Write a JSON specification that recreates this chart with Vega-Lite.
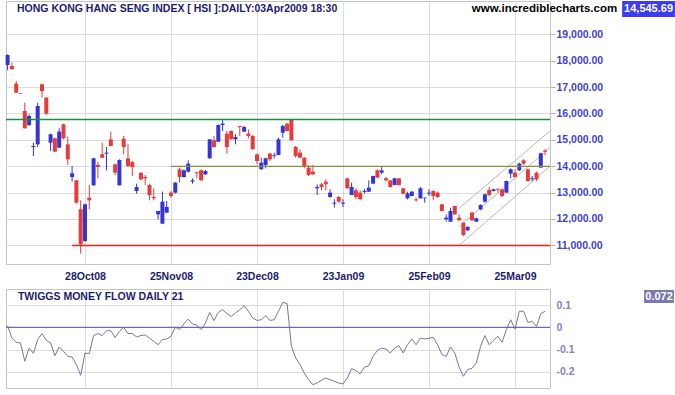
{
"$schema": "https://vega.github.io/schema/vega-lite/v6.json",
"padding": {"left": 4, "top": 0, "right": 0, "bottom": 0},
"background": "white",
"bounds": "flush",
"spacing": 25,
"config": {
 "font": "Liberation Sans",
 "view": {"stroke": "#c4c4c4", "strokeWidth": 1},
 "axis": {"labelFont": "Liberation Sans", "labelFontWeight": "bold", "labelFontSize": 10.5, "gridColor": "#dcdcdc", "gridWidth": 1, "domain": false, "title": null}
},
"datasets": {
"hsi": [
{"i":0,"date":"2008-09-30","open":17836,"high":18240,"low":17634,"close":18215,"tmf":0.008},
{"i":1,"date":"2008-10-02","open":17798,"high":17925,"low":17660,"close":17672,"tmf":-0.048},
{"i":2,"date":"2008-10-03","open":17128,"high":17229,"low":16780,"close":16787,"tmf":-0.067},
{"i":3,"date":"2008-10-06","open":16775,"high":16780,"low":16745,"close":16750,"tmf":-0.07},
{"i":4,"date":"2008-10-08","open":16092,"high":16408,"low":15430,"close":15435,"tmf":-0.152},
{"i":5,"date":"2008-10-09","open":15561,"high":15966,"low":15523,"close":15902,"tmf":-0.093},
{"i":6,"date":"2008-10-10","open":14727,"high":14891,"low":14386,"close":14765,"tmf":-0.116},
{"i":7,"date":"2008-10-13","open":14828,"high":16408,"low":14727,"close":16282,"tmf":-0.054},
{"i":8,"date":"2008-10-14","open":17103,"high":17128,"low":16598,"close":16850,"tmf":-0.028},
{"i":9,"date":"2008-10-15","open":16598,"high":16610,"low":15940,"close":15991,"tmf":-0.058},
{"i":10,"date":"2008-10-16","open":14891,"high":15233,"low":14575,"close":15207,"tmf":-0.07},
{"i":11,"date":"2008-10-17","open":15056,"high":15081,"low":14545,"close":14550,"tmf":-0.127},
{"i":12,"date":"2008-10-20","open":14702,"high":15435,"low":14690,"close":15308,"tmf":-0.088},
{"i":13,"date":"2008-10-21","open":15587,"high":15612,"low":15018,"close":15056,"tmf":-0.107},
{"i":14,"date":"2008-10-22","open":14828,"high":15119,"low":14045,"close":14260,"tmf":-0.13},
{"i":15,"date":"2008-10-23","open":13590,"high":14007,"low":13413,"close":13729,"tmf":-0.133},
{"i":16,"date":"2008-10-24","open":13463,"high":13480,"low":12579,"close":12617,"tmf":-0.167},
{"i":17,"date":"2008-10-27","open":12364,"high":12705,"low":10683,"close":11037,"tmf":-0.215},
{"i":18,"date":"2008-10-28","open":11163,"high":12579,"low":11138,"close":12554,"tmf":-0.115},
{"i":19,"date":"2008-10-29","open":12806,"high":13287,"low":12364,"close":12705,"tmf":-0.118},
{"i":20,"date":"2008-10-30","open":13274,"high":14320,"low":13250,"close":14297,"tmf":-0.037},
{"i":21,"date":"2008-10-31","open":14045,"high":14171,"low":13539,"close":13969,"tmf":-0.028},
{"i":22,"date":"2008-11-03","open":14449,"high":14891,"low":14300,"close":14323,"tmf":-0.037},
{"i":23,"date":"2008-11-04","open":14474,"high":14727,"low":13842,"close":14512,"tmf":-0.015},
{"i":24,"date":"2008-11-05","open":15018,"high":15308,"low":14760,"close":14765,"tmf":-0.015},
{"i":25,"date":"2008-11-06","open":14070,"high":14095,"low":13665,"close":13754,"tmf":-0.045},
{"i":26,"date":"2008-11-07","open":13274,"high":14259,"low":13270,"close":14234,"tmf":-0.018},
{"i":27,"date":"2008-11-10","open":15043,"high":15144,"low":14449,"close":14727,"tmf":0.0},
{"i":28,"date":"2008-11-11","open":14297,"high":14828,"low":13969,"close":14007,"tmf":-0.028},
{"i":29,"date":"2008-11-12","open":14158,"high":14196,"low":13627,"close":13969,"tmf":-0.028},
{"i":30,"date":"2008-11-13","open":13059,"high":13337,"low":12958,"close":13210,"tmf":-0.043},
{"i":31,"date":"2008-11-14","open":13754,"high":13760,"low":13463,"close":13501,"tmf":-0.037},
{"i":32,"date":"2008-11-17","open":13590,"high":13665,"low":13286,"close":13539,"tmf":-0.034},
{"i":33,"date":"2008-11-18","open":13286,"high":13337,"low":12705,"close":12907,"tmf":-0.049},
{"i":34,"date":"2008-11-19","open":12831,"high":13160,"low":12705,"close":12781,"tmf":-0.063},
{"i":35,"date":"2008-11-20","open":12174,"high":12310,"low":11985,"close":12301,"tmf":-0.078},
{"i":36,"date":"2008-11-21","open":11820,"high":13034,"low":11815,"close":12654,"tmf":-0.055},
{"i":37,"date":"2008-11-24","open":12237,"high":12680,"low":12230,"close":12452,"tmf":-0.052},
{"i":38,"date":"2008-11-25","open":12996,"high":13059,"low":12806,"close":12869,"tmf":-0.04},
{"i":39,"date":"2008-11-26","open":12996,"high":13400,"low":12960,"close":13375,"tmf":0.001},
{"i":40,"date":"2008-11-27","open":13880,"high":13943,"low":13375,"close":13590,"tmf":-0.01},
{"i":41,"date":"2008-11-28","open":13590,"high":13880,"low":13560,"close":13842,"tmf":0.015},
{"i":42,"date":"2008-12-01","open":13792,"high":14221,"low":13754,"close":14095,"tmf":0.037},
{"i":43,"date":"2008-12-02","open":13413,"high":13539,"low":13337,"close":13463,"tmf":0.015},
{"i":44,"date":"2008-12-03","open":13767,"high":13792,"low":13539,"close":13729,"tmf":0.01},
{"i":45,"date":"2008-12-04","open":13842,"high":13880,"low":13450,"close":13463,"tmf":-0.01},
{"i":46,"date":"2008-12-05","open":13691,"high":13855,"low":13665,"close":13817,"tmf":0.019},
{"i":47,"date":"2008-12-08","open":14297,"high":15030,"low":14290,"close":15018,"tmf":0.067},
{"i":48,"date":"2008-12-09","open":14980,"high":15144,"low":14702,"close":14727,"tmf":0.03},
{"i":49,"date":"2008-12-10","open":14929,"high":15587,"low":14920,"close":15561,"tmf":0.067},
{"i":50,"date":"2008-12-11","open":15561,"high":15776,"low":15334,"close":15612,"tmf":0.079},
{"i":51,"date":"2008-12-12","open":15233,"high":15334,"low":14474,"close":14727,"tmf":0.061},
{"i":52,"date":"2008-12-15","open":15334,"high":15360,"low":15010,"close":15018,"tmf":0.049},
{"i":53,"date":"2008-12-16","open":15018,"high":15207,"low":14828,"close":15106,"tmf":0.064},
{"i":54,"date":"2008-12-17","open":15523,"high":15530,"low":15144,"close":15485,"tmf":0.079},
{"i":55,"date":"2008-12-18","open":15308,"high":15523,"low":15300,"close":15485,"tmf":0.097},
{"i":56,"date":"2008-12-19","open":15233,"high":15397,"low":15056,"close":15144,"tmf":0.072},
{"i":57,"date":"2008-12-22","open":15144,"high":15182,"low":14630,"close":14638,"tmf":0.042},
{"i":58,"date":"2008-12-23","open":14449,"high":14474,"low":14070,"close":14196,"tmf":0.031},
{"i":59,"date":"2008-12-24","open":13880,"high":14323,"low":13870,"close":14133,"tmf":0.034},
{"i":60,"date":"2008-12-29","open":14045,"high":14320,"low":13918,"close":14297,"tmf":0.052},
{"i":61,"date":"2008-12-30","open":14474,"high":14512,"low":14196,"close":14259,"tmf":0.031},
{"i":62,"date":"2008-12-31","open":14390,"high":14512,"low":14298,"close":14420,"tmf":0.034},
{"i":63,"date":"2009-01-02","open":14424,"high":15080,"low":14420,"close":15018,"tmf":0.072},
{"i":64,"date":"2009-01-05","open":15270,"high":15560,"low":15080,"close":15523,"tmf":0.112},
{"i":65,"date":"2009-01-06","open":15610,"high":15650,"low":15320,"close":15334,"tmf":0.106},
{"i":66,"date":"2009-01-07","open":15760,"high":15777,"low":14970,"close":14980,"tmf":-0.085},
{"i":67,"date":"2009-01-08","open":14727,"high":14765,"low":14323,"close":14386,"tmf":-0.137},
{"i":68,"date":"2009-01-09","open":14513,"high":14639,"low":14298,"close":14323,"tmf":-0.167},
{"i":69,"date":"2009-01-12","open":14323,"high":14330,"low":13919,"close":13969,"tmf":-0.205},
{"i":70,"date":"2009-01-13","open":13944,"high":14045,"low":13628,"close":13666,"tmf":-0.234},
{"i":71,"date":"2009-01-14","open":13792,"high":14045,"low":13666,"close":13691,"tmf":-0.257},
{"i":72,"date":"2009-01-15","open":13160,"high":13312,"low":12907,"close":13211,"tmf":-0.249},
{"i":73,"date":"2009-01-16","open":13312,"high":13375,"low":13084,"close":13211,"tmf":-0.237},
{"i":74,"date":"2009-01-19","open":13413,"high":13501,"low":13084,"close":13312,"tmf":-0.227},
{"i":75,"date":"2009-01-20","open":12832,"high":13122,"low":12800,"close":12996,"tmf":-0.234},
{"i":76,"date":"2009-01-21","open":12579,"high":12743,"low":12427,"close":12617,"tmf":-0.242},
{"i":77,"date":"2009-01-22","open":12832,"high":12870,"low":12617,"close":12655,"tmf":-0.249},
{"i":78,"date":"2009-01-23","open":12579,"high":12743,"low":12453,"close":12617,"tmf":-0.254},
{"i":79,"date":"2009-01-29","open":13539,"high":13565,"low":13150,"close":13160,"tmf":-0.227},
{"i":80,"date":"2009-01-30","open":12907,"high":13375,"low":12900,"close":13211,"tmf":-0.185},
{"i":81,"date":"2009-02-02","open":13084,"high":13160,"low":12743,"close":12832,"tmf":-0.194},
{"i":82,"date":"2009-02-03","open":12996,"high":13084,"low":12730,"close":12743,"tmf":-0.208},
{"i":83,"date":"2009-02-04","open":13021,"high":13122,"low":12958,"close":13059,"tmf":-0.178},
{"i":84,"date":"2009-02-05","open":13034,"high":13463,"low":13020,"close":13185,"tmf":-0.172},
{"i":85,"date":"2009-02-06","open":13337,"high":13640,"low":13330,"close":13628,"tmf":-0.13},
{"i":86,"date":"2009-02-09","open":13842,"high":13880,"low":13550,"close":13564,"tmf":-0.103},
{"i":87,"date":"2009-02-10","open":13754,"high":14007,"low":13691,"close":13842,"tmf":-0.093},
{"i":88,"date":"2009-02-11","open":13539,"high":13590,"low":13413,"close":13463,"tmf":-0.097},
{"i":89,"date":"2009-02-12","open":13463,"high":13470,"low":13185,"close":13210,"tmf":-0.115},
{"i":90,"date":"2009-02-13","open":13286,"high":13550,"low":13280,"close":13539,"tmf":-0.093},
{"i":91,"date":"2009-02-16","open":13539,"high":13550,"low":13270,"close":13286,"tmf":-0.082},
{"i":92,"date":"2009-02-17","open":13160,"high":13185,"low":12932,"close":12958,"tmf":-0.115},
{"i":93,"date":"2009-02-18","open":12781,"high":13034,"low":12743,"close":12970,"tmf":-0.078},
{"i":94,"date":"2009-02-19","open":12869,"high":13059,"low":12860,"close":13034,"tmf":-0.052},
{"i":95,"date":"2009-02-20","open":12743,"high":12806,"low":12654,"close":12705,"tmf":-0.078},
{"i":96,"date":"2009-02-23","open":12781,"high":13210,"low":12770,"close":13160,"tmf":-0.048},
{"i":97,"date":"2009-02-24","open":12781,"high":12810,"low":12616,"close":12806,"tmf":-0.052},
{"i":98,"date":"2009-02-25","open":12958,"high":13122,"low":12869,"close":12996,"tmf":-0.049},
{"i":99,"date":"2009-02-26","open":13059,"high":13084,"low":12705,"close":12869,"tmf":-0.045},
{"i":100,"date":"2009-02-27","open":12996,"high":13034,"low":12806,"close":12831,"tmf":-0.078},
{"i":101,"date":"2009-03-02","open":12553,"high":12578,"low":12290,"close":12301,"tmf":-0.122},
{"i":102,"date":"2009-03-03","open":11985,"high":12174,"low":11896,"close":12048,"tmf":-0.13},
{"i":103,"date":"2009-03-04","open":11896,"high":12427,"low":11890,"close":12301,"tmf":-0.088},
{"i":104,"date":"2009-03-05","open":12490,"high":12500,"low":12149,"close":12174,"tmf":-0.115},
{"i":105,"date":"2009-03-06","open":12048,"high":12174,"low":11940,"close":11947,"tmf":-0.178},
{"i":106,"date":"2009-03-09","open":11858,"high":11896,"low":11353,"close":11391,"tmf":-0.219},
{"i":107,"date":"2009-03-10","open":11568,"high":11732,"low":11543,"close":11694,"tmf":-0.189},
{"i":108,"date":"2009-03-11","open":12238,"high":12275,"low":11922,"close":11947,"tmf":-0.184},
{"i":109,"date":"2009-03-12","open":11896,"high":12048,"low":11890,"close":12023,"tmf":-0.16},
{"i":110,"date":"2009-03-13","open":12364,"high":12553,"low":12326,"close":12528,"tmf":-0.085},
{"i":111,"date":"2009-03-16","open":12655,"high":12958,"low":12617,"close":12933,"tmf":-0.037},
{"i":112,"date":"2009-03-17","open":13100,"high":13211,"low":12869,"close":12907,"tmf":-0.078},
{"i":113,"date":"2009-03-18","open":13059,"high":13147,"low":13034,"close":13122,"tmf":-0.058},
{"i":114,"date":"2009-03-19","open":13147,"high":13150,"low":12996,"close":13110,"tmf":-0.04},
{"i":115,"date":"2009-03-20","open":13122,"high":13130,"low":12831,"close":12869,"tmf":-0.067},
{"i":116,"date":"2009-03-23","open":12996,"high":13450,"low":12990,"close":13438,"tmf":-0.01},
{"i":117,"date":"2009-03-24","open":13716,"high":13918,"low":13539,"close":13880,"tmf":0.034},
{"i":118,"date":"2009-03-25","open":13754,"high":13880,"low":13565,"close":13590,"tmf":-0.008},
{"i":119,"date":"2009-03-26","open":13843,"high":14133,"low":13817,"close":14095,"tmf":0.072},
{"i":120,"date":"2009-03-27","open":14222,"high":14260,"low":14045,"close":14095,"tmf":0.072},
{"i":121,"date":"2009-03-30","open":13880,"high":13918,"low":13413,"close":13438,"tmf":0.022},
{"i":122,"date":"2009-03-31","open":13501,"high":13628,"low":13413,"close":13539,"tmf":0.027},
{"i":123,"date":"2009-04-01","open":13754,"high":13792,"low":13438,"close":13501,"tmf":0.004},
{"i":124,"date":"2009-04-02","open":13944,"high":14512,"low":13940,"close":14487,"tmf":0.061},
{"i":125,"date":"2009-04-03","open":14590,"high":14650,"low":14420,"close":14545.69,"tmf":0.072}
],
"levels": [
{"line":"resistance","level":15770,"start":-0.37,"end":126.14},
{"line":"support","level":13990,"start":38,"end":126.14},
{"line":"low","level":10993,"start":15,"end":126.14}
],
"channel": [
{"line":"upper","i":105,"value":12403},
{"line":"upper","i":126.14,"value":15334},
{"line":"middle","i":105,"value":11706},
{"line":"middle","i":126.14,"value":14706},
{"line":"lower","i":105,"value":11000},
{"line":"lower","i":126.14,"value":14000}
]
},
"vconcat": [
{
"width": 544,
"height": 263,
"resolve": {"axis": {"x": "independent", "y": "independent"}},
"layer": [
{"data": {"name": "hsi"}, "mark": {"type": "rule", "strokeWidth": 1},
 "encoding": {
  "x": {"field": "i", "type": "quantitative", "scale": {"domain": [-0.37, 126.14], "nice": false, "zero": false, "padding": 0},
        "axis": {"orient": "bottom", "values": [18, 38, 58, 78, 98, 118], "labelExpr": "datum.value == 18 ? '28Oct08' : datum.value == 38 ? '25Nov08' : datum.value == 58 ? '23Dec08' : datum.value == 78 ? '23Jan09' : datum.value == 98 ? '25Feb09' : '25Mar09'", "ticks": false, "labelPadding": 7, "labelColor": "#1c1c6e", "grid": true, "labelFlush": false, "title": null}},
  "y": {"field": "low", "type": "quantitative", "scale": {"domain": [10291, 20262], "nice": false, "zero": false},
        "axis": {"orient": "right", "values": [11000, 12000, 13000, 14000, 15000, 16000, 17000, 18000, 19000], "format": ",.2f", "labelColor": "#3f3fcf", "tickSize": 5, "tickColor": "#b0b0b0", "labelPadding": 1, "grid": true, "title": null}},
  "y2": {"field": "high"},
  "color": {"condition": {"test": "datum.close < datum.open", "value": "#e63b3b"}, "value": "#3535d6"}
 }},
{"data": {"name": "channel"}, "mark": {"type": "line", "strokeWidth": 1, "stroke": "#b8b8b8"},
 "encoding": {
  "x": {"field": "i", "type": "quantitative", "scale": {"domain": [-0.37, 126.14], "nice": false, "zero": false, "padding": 0}, "axis": null},
  "y": {"field": "value", "type": "quantitative", "scale": {"domain": [10291, 20262], "nice": false, "zero": false}, "axis": null},
  "detail": {"field": "line", "type": "nominal"}
 }},
{"data": {"name": "hsi"}, "mark": {"type": "bar", "size": 4},
 "encoding": {
  "x": {"field": "i", "type": "quantitative", "scale": {"domain": [-0.37, 126.14], "nice": false, "zero": false, "padding": 0}, "axis": null},
  "y": {"field": "open", "type": "quantitative", "scale": {"domain": [10291, 20262], "nice": false, "zero": false}, "axis": null},
  "y2": {"field": "close"},
  "color": {"condition": {"test": "datum.close < datum.open", "value": "#e63b3b"}, "value": "#3535d6"}
 }},
{"data": {"name": "levels"}, "transform": [{"filter": "datum.line == 'resistance'"}], "mark": {"type": "rule", "strokeWidth": 1.5, "stroke": "#1e8a4a"},
 "encoding": {
  "x": {"field": "start", "type": "quantitative", "scale": {"domain": [-0.37, 126.14], "nice": false, "zero": false, "padding": 0}, "axis": null},
  "x2": {"field": "end"},
  "y": {"field": "level", "type": "quantitative", "scale": {"domain": [10291, 20262], "nice": false, "zero": false}, "axis": null}
 }},
{"data": {"name": "levels"}, "transform": [{"filter": "datum.line == 'support'"}], "mark": {"type": "rule", "strokeWidth": 1.2, "stroke": "#8c8c3c"},
 "encoding": {
  "x": {"field": "start", "type": "quantitative", "scale": {"domain": [-0.37, 126.14], "nice": false, "zero": false, "padding": 0}, "axis": null},
  "x2": {"field": "end"},
  "y": {"field": "level", "type": "quantitative", "scale": {"domain": [10291, 20262], "nice": false, "zero": false}, "axis": null}
 }},
{"data": {"name": "levels"}, "transform": [{"filter": "datum.line == 'low'"}], "mark": {"type": "rule", "strokeWidth": 1.5, "stroke": "#ff1a1a"},
 "encoding": {
  "x": {"field": "start", "type": "quantitative", "scale": {"domain": [-0.37, 126.14], "nice": false, "zero": false, "padding": 0}, "axis": null},
  "x2": {"field": "end"},
  "y": {"field": "level", "type": "quantitative", "scale": {"domain": [10291, 20262], "nice": false, "zero": false}, "axis": null}
 }},
{"data": {"values": [{}]}, "mark": {"type": "text", "align": "left", "baseline": "middle", "fontSize": 10.5, "fontWeight": "bold", "color": "#1c1c6e", "text": "HONG KONG HANG SENG INDEX [ HSI ]:DAILY:03Apr2009 18:30"},
 "encoding": {
  "x": {"datum": 2.18, "type": "quantitative", "scale": {"domain": [-0.37, 126.14], "nice": false, "zero": false, "padding": 0}, "axis": null},
  "y": {"datum": 19959, "type": "quantitative", "scale": {"domain": [10291, 20262], "nice": false, "zero": false}, "axis": null}
 }},
{"data": {"values": [{}]}, "mark": {"type": "text", "align": "right", "baseline": "middle", "fontSize": 11.5, "fontWeight": "bold", "color": "#000000", "text": "www.incrediblecharts.com"},
 "encoding": {
  "x": {"datum": 141.76, "type": "quantitative", "scale": {"domain": [-0.37, 126.14], "nice": false, "zero": false, "padding": 0}, "axis": null},
  "y": {"datum": 19959, "type": "quantitative", "scale": {"domain": [10291, 20262], "nice": false, "zero": false}, "axis": null}
 }},
{"data": {"values": [{}]}, "mark": {"type": "rect", "color": "#3b3bf0"},
 "encoding": {
  "x": {"datum": 142.92, "type": "quantitative", "scale": {"domain": [-0.37, 126.14], "nice": false, "zero": false, "padding": 0}, "axis": null},
  "x2": {"datum": 155.2},
  "y": {"datum": 20262, "type": "quantitative", "scale": {"domain": [10291, 20262], "nice": false, "zero": false}, "axis": null},
  "y2": {"datum": 19655}
 }},
{"data": {"name": "hsi"}, "transform": [{"filter": "datum.i == 125"}],
 "mark": {"type": "text", "align": "center", "baseline": "middle", "fontSize": 11, "fontWeight": "bold", "color": "#ffffff"},
 "encoding": {
  "x": {"datum": 149.06, "type": "quantitative", "scale": {"domain": [-0.37, 126.14], "nice": false, "zero": false, "padding": 0}, "axis": null},
  "y": {"datum": 19959, "type": "quantitative", "scale": {"domain": [10291, 20262], "nice": false, "zero": false}, "axis": null},
  "text": {"field": "close", "type": "quantitative", "format": ",.2f"}
 }}
]
},
{
"width": 544,
"height": 99,
"resolve": {"axis": {"x": "independent", "y": "independent"}},
"layer": [
{"data": {"name": "hsi"}, "mark": {"type": "line", "strokeWidth": 1, "stroke": "#77779c"},
 "encoding": {
  "x": {"field": "i", "type": "quantitative", "scale": {"domain": [-0.37, 126.14], "nice": false, "zero": false, "padding": 0},
        "axis": {"orient": "bottom", "values": [18, 38, 58, 78, 98, 118], "labels": false, "ticks": false, "grid": true, "title": null}},
  "y": {"field": "tmf", "type": "quantitative", "scale": {"domain": [-0.2717, 0.1717], "nice": false, "zero": false},
        "axis": {"orient": "right", "values": [-0.2, -0.1, 0, 0.1], "labelExpr": "datum.value == 0 ? '0' : (datum.value < 0 ? '-' : '') + format(abs(datum.value), '.1f')", "ticks": false, "labelPadding": 6, "labelColor": "#8484b8", "grid": true, "title": null}}
 }},
{"data": {"values": [{}]}, "mark": {"type": "rule", "strokeWidth": 1.2, "stroke": "#6b6bab"},
 "encoding": {
  "y": {"datum": 0, "type": "quantitative", "scale": {"domain": [-0.2717, 0.1717], "nice": false, "zero": false}, "axis": null}
 }},
{"data": {"values": [{}]}, "mark": {"type": "text", "align": "left", "baseline": "middle", "fontSize": 10.5, "fontWeight": "bold", "color": "#1c1c6e", "text": "TWIGGS MONEY FLOW DAILY 21"},
 "encoding": {
  "x": {"datum": 2.41, "type": "quantitative", "scale": {"domain": [-0.37, 126.14], "nice": false, "zero": false, "padding": 0}, "axis": null},
  "y": {"datum": 0.138, "type": "quantitative", "scale": {"domain": [-0.2717, 0.1717], "nice": false, "zero": false}, "axis": null}
 }},
{"data": {"values": [{}]}, "mark": {"type": "rect", "color": "#7a7ab0"},
 "encoding": {
  "x": {"datum": 148.02, "type": "quantitative", "scale": {"domain": [-0.37, 126.14], "nice": false, "zero": false, "padding": 0}, "axis": null},
  "x2": {"datum": 154.97},
  "y": {"datum": 0.1672, "type": "quantitative", "scale": {"domain": [-0.2717, 0.1717], "nice": false, "zero": false}, "axis": null},
  "y2": {"datum": 0.1089}
 }},
{"data": {"name": "hsi"}, "transform": [{"filter": "datum.i == 125"}],
 "mark": {"type": "text", "align": "center", "baseline": "middle", "fontSize": 11, "fontWeight": "bold", "color": "#ffffff"},
 "encoding": {
  "x": {"datum": 151.5, "type": "quantitative", "scale": {"domain": [-0.37, 126.14], "nice": false, "zero": false, "padding": 0}, "axis": null},
  "y": {"datum": 0.138, "type": "quantitative", "scale": {"domain": [-0.2717, 0.1717], "nice": false, "zero": false}, "axis": null},
  "text": {"field": "tmf", "type": "quantitative", "format": ".3f"}
 }}
]
}
]
}
